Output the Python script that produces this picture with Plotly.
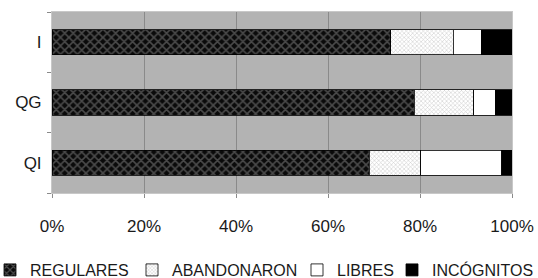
import plotly.graph_objects as go

categories = ["I", "QG", "QI"]
series_names = ["REGULARES", "ABANDONARON", "LIBRES", "INCÓGNITOS"]
regulares = [73.6, 78.8, 69.0]
abandonaron = [13.6, 12.9, 11.2]
libres = [6.1, 4.7, 17.6]
incognitos = [6.7, 3.6, 2.2]
x_ticks = [0, 20, 40, 60, 80, 100]
x_tick_labels = ["0%", "20%", "40%", "60%", "80%", "100%"]

values = [regulares, abandonaron, libres, incognitos]

styles = [
    dict(color="#111111", pattern=dict(shape="x", fgcolor="#8c8c8c", bgcolor="#0a0a0a", size=6, solidity=0.45)),
    dict(color="#ffffff", pattern=dict(shape="x", fgcolor="#9a9a9a", bgcolor="#ffffff", size=3, solidity=0.35)),
    dict(color="#ffffff"),
    dict(color="#000000"),
]

# legend text start positions (px) in the reference
legend_text_px = [28, 170, 335, 430]
legend_names = ["legend", "legend2", "legend3", "legend4"]

FONT = "Liberation Sans, Arial, sans-serif"
W, H = 538, 278
L, R, T, B = 52, 26, 12, 85
PW = W - L - R

fig = go.Figure()
for name, vals, st, lg in zip(series_names, values, styles, legend_names):
    marker = dict(color=st["color"], line=dict(color="#000000", width=0.8))
    if "pattern" in st:
        marker["pattern"] = st["pattern"]
    fig.add_trace(go.Bar(
        y=categories, x=vals, name=name, orientation="h",
        marker=marker, legend=lg,
    ))

layout_legends = {}
for lg, px in zip(legend_names, legend_text_px):
    box = px - 38
    layout_legends[lg] = dict(
        orientation="h", xref="paper", yref="container",
        x=(box - L) / PW, xanchor="left",
        y=1 - 270 / H, yanchor="middle",
        font=dict(family=FONT, size=16, color="#1a1a1a"),
        bgcolor="rgba(0,0,0,0)", borderwidth=0,
    )

fig.update_layout(
    width=W, height=H,
    margin=dict(l=L, r=R, t=T, b=B, autoexpand=False),
    barmode="stack", bargap=0.585,
    paper_bgcolor="white", plot_bgcolor="#b3b3b3",
    font=dict(family=FONT, size=17, color="#1a1a1a"),
    showlegend=True,
    **layout_legends,
)
fig.update_xaxes(
    range=[0, 100], tickvals=x_ticks, ticktext=x_tick_labels,
    showgrid=True, gridcolor="#8a8a8a", gridwidth=1,
    ticks="outside", ticklen=4, tickcolor="#8a8a8a",
    showline=True, linecolor="#c8c8c8", mirror=True,
    zeroline=False, ticklabelstandoff=14, automargin=False,
    tickfont=dict(family=FONT, size=17, color="#1a1a1a"),
)
fig.update_yaxes(
    categoryorder="array", categoryarray=categories[::-1],
    ticks="outside", ticklen=4, tickcolor="#8a8a8a", tickson="boundaries",
    showline=True, linecolor="#c8c8c8", mirror=True, showgrid=False,
    ticklabelstandoff=6, automargin=False,
    tickfont=dict(family=FONT, size=17, color="#1a1a1a"),
)

fig.write_html(
    "out.html",
    config={"displayModeBar": False},
    post_script="document.body.style.margin='0';document.body.style.overflow='hidden';",
)
